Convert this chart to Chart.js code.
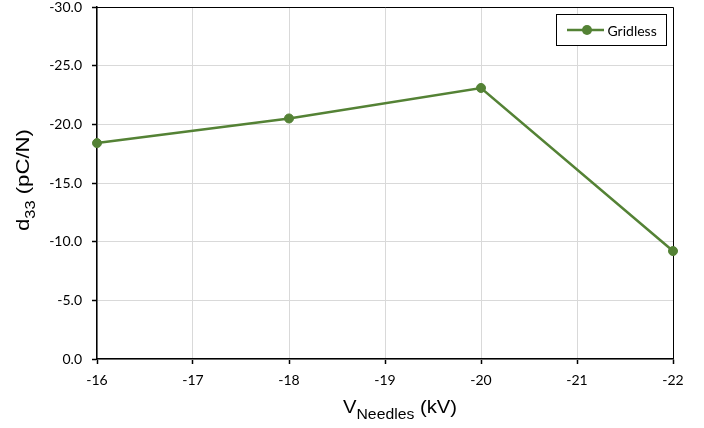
<!DOCTYPE html>
<html><head><meta charset="utf-8">
<script src="https://cdn.jsdelivr.net/npm/chart.js@4"></script>
<style>html,body{margin:0;padding:0;background:#fff}#wrap{width:704px;height:428px;position:relative}</style>
</head><body><div id="wrap"><canvas id="c" width="704" height="428"></canvas></div>
<script>
// ---- data ----
const voltages = [-16, -18, -20, -22];
const d33Gridless = [-18.4, -20.5, -23.1, -9.2];
const seriesLabel = 'Gridless';
const xTicks = [-16, -17, -18, -19, -20, -21, -22];
const yTicks = [0, -5, -10, -15, -20, -25, -30];
const xTitleParts = ['V', 'Needles', ' (kV)'];
const yTitleParts = ['d', '33', ' (pC/N)'];

const GREEN = '#548235';
const TICK_FONT = {family: 'Lato', size: 14};

function drawSubTitle(ctx, parts, mainFont, subFont, subShift, targetWidth) {
  ctx.font = mainFont; const w0 = ctx.measureText(parts[0]).width;
  ctx.font = subFont; const w1 = ctx.measureText(parts[1]).width;
  ctx.font = mainFont; const w2 = ctx.measureText(parts[2]).width;
  const total = w0 + w1 + w2;
  const s = targetWidth ? targetWidth / total : 1;
  ctx.scale(s, 1);
  let x = -total / 2;
  ctx.textAlign = 'left'; ctx.textBaseline = 'alphabetic';
  ctx.font = mainFont; ctx.fillText(parts[0], x, 0); x += w0;
  ctx.font = subFont; ctx.fillText(parts[1], x, subShift); x += w1;
  ctx.font = mainFont; ctx.fillText(parts[2], x, 0);
}

const decor = {
  id: 'decor',
  beforeDatasetsDraw(chart) {
    const {ctx, chartArea: a} = chart;
    ctx.save();
    ctx.strokeStyle = '#000'; ctx.lineWidth = 1;
    ctx.beginPath();
    ctx.moveTo(a.left, a.top + 0.5); ctx.lineTo(a.right + 0.5, a.top + 0.5);
    ctx.lineTo(a.right + 0.5, a.bottom);
    ctx.stroke();
    ctx.restore();
  },
  afterDraw(chart) {
    const {ctx, chartArea: a} = chart;
    ctx.save();
    ctx.fillStyle = '#000';
    // x title
    ctx.save();
    ctx.translate((a.left + a.right) / 2 + 15, 413);
    drawSubTitle(ctx, xTitleParts, '18px "Liberation Sans"', '14px "Liberation Sans"', 6, 114);
    ctx.restore();
    // y title
    ctx.save();
    ctx.translate(29, 180);
    ctx.rotate(-Math.PI / 2);
    drawSubTitle(ctx, yTitleParts, '19px "Liberation Sans"', '14px "Liberation Sans"', 6, 102);
    ctx.restore();
    // legend
    const bx = a.right - 116.5, by = a.top + 7.5, bw = 110, bh = 31;
    ctx.fillStyle = '#fff';
    ctx.fillRect(bx, by, bw, bh);
    ctx.strokeStyle = '#000'; ctx.lineWidth = 1;
    ctx.strokeRect(bx, by, bw, bh);
    const cy = by + bh / 2;
    ctx.strokeStyle = GREEN; ctx.lineWidth = 2.5;
    ctx.beginPath(); ctx.moveTo(bx + 10.5, cy); ctx.lineTo(bx + 47.5, cy); ctx.stroke();
    ctx.fillStyle = GREEN;
    ctx.beginPath(); ctx.arc(bx + 30.5, cy, 5, 0, Math.PI * 2); ctx.fill();
    ctx.fillStyle = '#000';
    ctx.font = '14px Lato'; ctx.textAlign = 'left'; ctx.textBaseline = 'middle';
    ctx.fillText(chart.data.datasets[0].label, bx + 51, cy + 1);
    ctx.restore();
  }
};

new Chart(document.getElementById('c'), {
  type: 'line',
  data: {
    datasets: [{
      label: seriesLabel,
      data: voltages.map((v, i) => ({x: v, y: d33Gridless[i]})),
      borderColor: GREEN,
      backgroundColor: GREEN,
      borderWidth: 2.5,
      pointRadius: 4.5,
      pointBorderWidth: 1,
      pointBackgroundColor: GREEN,
      pointBorderColor: GREEN,
      tension: 0,
      clip: false
    }]
  },
  options: {
    responsive: false,
    devicePixelRatio: 1,
    animation: false,
    layout: {padding: {left: 0, top: 7, right: 31, bottom: 0}},
    plugins: {legend: {display: false}, tooltip: {enabled: false}, title: {display: false}},
    scales: {
      x: {
        type: 'linear', min: -22, max: -16, reverse: true,
        afterBuildTicks: s => { s.ticks = xTicks.map(v => ({value: v})); },
        afterFit: s => { s.height = 69; s.paddingLeft = 0; s.paddingRight = 0; },
        ticks: {font: TICK_FONT, color: '#000', padding: 8, maxRotation: 0,
                callback: v => String(v)},
        grid: {color: '#d9d9d9', lineWidth: 1, tickLength: 5, tickColor: '#000', tickWidth: 1.5},
        border: {color: '#000', width: 1.5}
      },
      y: {
        type: 'linear', min: -30, max: 0, reverse: true,
        afterBuildTicks: s => { s.ticks = yTicks.map(v => ({value: v})); },
        afterFit: s => { s.width = 97; s.paddingTop = 0; s.paddingBottom = 0; },
        ticks: {font: TICK_FONT, color: '#000', padding: 10,
                callback: v => Number(v).toFixed(1)},
        grid: {color: '#d9d9d9', lineWidth: 1, tickLength: 5, tickColor: '#000', tickWidth: 1.5},
        border: {color: '#000', width: 1.5}
      }
    }
  },
  plugins: [decor]
});
</script>
</body></html>
